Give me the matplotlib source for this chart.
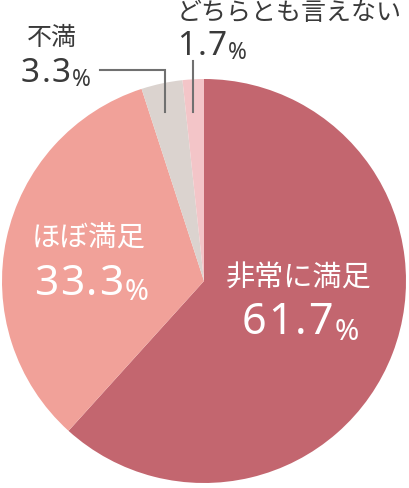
import matplotlib.pyplot as plt

plt.rcParams['font.family'] = ['Noto Sans CJK JP', 'DejaVu Sans']

# data
labels = ['非常に満足', 'ほぼ満足', '不満', 'どちらとも言えない']
values = [61.7, 33.3, 3.3, 1.7]
colors = ['#c3666f', '#f1a199', '#dbd3cf', '#f3c5c8']

W, H = 409, 489
fig = plt.figure(figsize=(W / 100, H / 100), dpi=100)
ax = fig.add_axes([0, 0, 1, 1])

# pie in pixel-like coords (y measured from bottom)
ax.pie(values, colors=colors, startangle=90, counterclock=False,
       center=(204, H - 282), radius=202,
       wedgeprops=dict(linewidth=0))
ax.set_xlim(0, W)
ax.set_ylim(0, H)
ax.set_aspect('equal')
ax.axis('off')


def y(p):
    return H - p


NUMFONT = ['Noto Sans', 'DejaVu Sans']


def pct_label(x, ybase, value, size, color, sp):
    # number drawn char by char to get the wider letter spacing
    s = '%.1f' % value
    t = ax.text(x, ybase, s[0], fontsize=size, color=color, family=NUMFONT,
                ha='left', va='baseline')
    for ch in s[1:]:
        t = ax.annotate(ch, xy=(1, 0), xycoords=t, xytext=(sp, 0),
                        textcoords='offset points', fontsize=size,
                        family=NUMFONT, color=color, ha='left', va='bottom')
    ax.annotate('%', xy=(1, 0), xycoords=t, xytext=(sp, -size * 0.05),
                textcoords='offset points', fontsize=size * 0.68,
                family=NUMFONT, color=color, ha='left', va='bottom')


dark = '#3a3a3a'

# inside labels
ax.text(226, y(279), labels[0], fontsize=21, color='white', ha='left', va='center')
pct_label(242, y(334), values[0], 31, 'white', 1.2)

ax.text(32, y(239), labels[1], fontsize=20.5, color='white', ha='left', va='center')
pct_label(34, y(295), values[1], 30.5, 'white', 1.2)

# outside labels
ax.text(27, y(38), labels[2], fontsize=18, color=dark, ha='left', va='center')
pct_label(21, y(82), values[2], 24, dark, 1)

ax.text(177, y(13), labels[3], fontsize=18, color=dark, ha='left', va='center')
pct_label(177, y(55), values[3], 24, dark, 1)

# leader lines
ax.plot([100, 165, 165], [y(71), y(71), y(113)], color='#707070', lw=1.5,
        solid_joinstyle='miter')
ax.plot([193, 193], [y(62), y(113)], color='#707070', lw=1.5)

fig.savefig('out.png', dpi=100)
